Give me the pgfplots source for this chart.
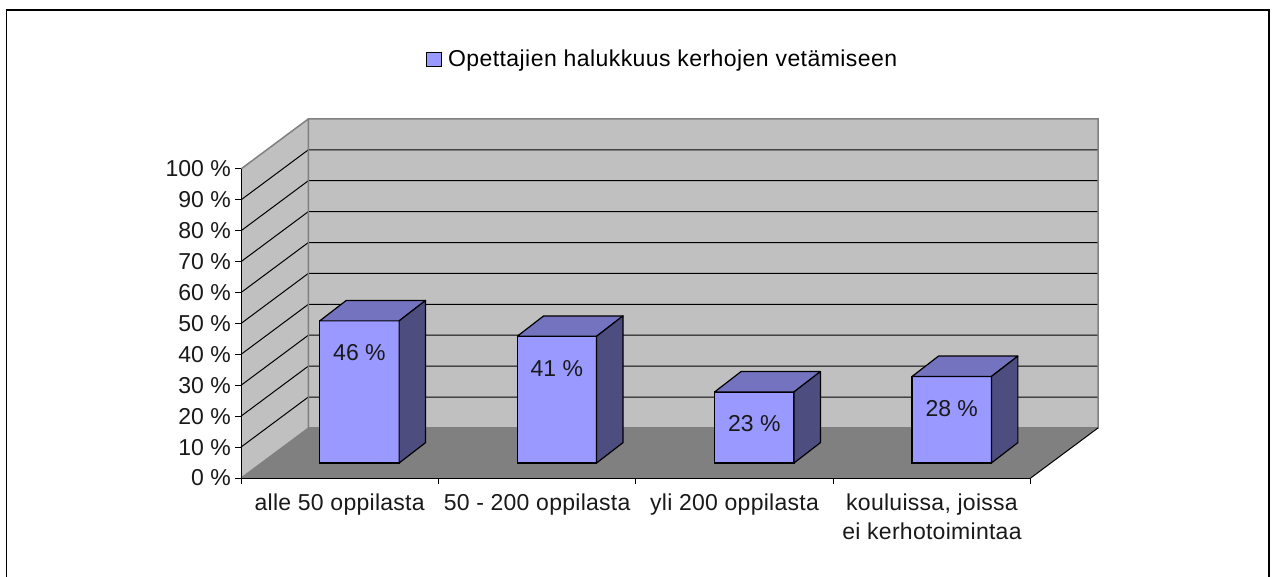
\documentclass[border=0pt]{standalone}
\usepackage{pgfplots}
\pgfplotsset{compat=1.18}
\usepackage{fontspec}
\setmainfont{Liberation Sans}
\newfontfamily\lsleg[LetterSpace=1.9]{Liberation Sans}
\newfontfamily\lslab[LetterSpace=1.2]{Liberation Sans}
\definecolor{wallc}{HTML}{C0C0C0}
\definecolor{floorc}{HTML}{808080}
\definecolor{barf}{HTML}{9999FF}
\definecolor{bart}{HTML}{7373BF}
\definecolor{bars}{HTML}{4D4D80}
\begin{document}
\begin{tikzpicture}[x=1pt,y=1pt]
\useasboundingbox (0,0) rectangle (1277,576);
\fill[white] (0,0) rectangle (1277,576);
\begin{scope}
\clip (0,0) rectangle (1277,576);
\draw[black,line width=1.5pt] (6.5,-10) rectangle (1269,566);
\end{scope}
% walls, floor, grid and axes: 0 % at the front edge
\begin{axis}[
  at={(241pt,98pt)},anchor=south west,scale only axis,
  width=789.7pt,height=309pt,
  xmin=0,xmax=4,ymin=0,ymax=100,clip=false,axis on top=true,
  axis x line=bottom,axis y line=left,
  axis line style={-,black,line width=1pt},
  tick align=outside,major tick length=6pt,
  every tick/.style={black,line width=1pt},
  tick label style={font=\fontsize{23}{29}\selectfont,text=black!90},
  xtick={0,1,2,3,4},xticklabels={},
  extra x ticks={0.5,1.5,2.5,3.5},
  extra x tick labels={alle 50 oppilasta,50 - 200 oppilasta,yli 200 oppilasta,{kouluissa, joissa\\ei kerhotoimintaa}},
  extra x tick style={major tick length=0pt,
    x tick label style={font=\fontsize{23}{29}\lslab,align=center,anchor=north,yshift=-13pt,inner sep=3pt}},
  ytick={0,10,...,100},
  yticklabels={0 \%,10 \%,20 \%,30 \%,40 \%,50 \%,60 \%,70 \%,80 \%,90 \%,100 \%},
  y tick label style={anchor=east,inner sep=0pt,xshift=-4pt},
]
\addplot[draw=none,fill=wallc,forget plot] coordinates {(0,0) (0,100) (0.341,116.2) (4.341,116.2) (4.341,16.2) (0.341,16.2) (0,0)};
\addplot[draw=none,fill=floorc,forget plot] coordinates {(0,0) (0.341,16.2) (4.341,16.2) (4,0) (0,0)};
\addplot[floorc!85!black,line width=1pt,forget plot] coordinates {(0.341,16.2) (4.341,16.2)};
\addplot[black,line width=1pt,forget plot] coordinates {(0,10) (0.341,26.2) (4.341,26.2)};
\addplot[black,line width=1pt,forget plot] coordinates {(0,20) (0.341,36.2) (4.341,36.2)};
\addplot[black,line width=1pt,forget plot] coordinates {(0,30) (0.341,46.2) (4.341,46.2)};
\addplot[black,line width=1pt,forget plot] coordinates {(0,40) (0.341,56.2) (4.341,56.2)};
\addplot[black,line width=1pt,forget plot] coordinates {(0,50) (0.341,66.2) (4.341,66.2)};
\addplot[black,line width=1pt,forget plot] coordinates {(0,60) (0.341,76.2) (4.341,76.2)};
\addplot[black,line width=1pt,forget plot] coordinates {(0,70) (0.341,86.2) (4.341,86.2)};
\addplot[black,line width=1pt,forget plot] coordinates {(0,80) (0.341,96.2) (4.341,96.2)};
\addplot[black,line width=1pt,forget plot] coordinates {(0,90) (0.341,106.2) (4.341,106.2)};
\addplot[floorc,line width=1.5pt,forget plot] coordinates {(0,100) (0.341,116.2) (4.341,116.2) (4.341,16.2) (0.341,16.2) (0.341,116.2)};
\addplot[floorc,line width=1pt,forget plot] coordinates {(0,0) (0.341,16.2)};
\addplot[black,line width=1pt,forget plot] coordinates {(4,0) (4.341,16.2)};
\end{axis}
% bars, on the raised base of the 3-D floor
\begin{axis}[
  at={(241pt,113pt)},anchor=south west,scale only axis,
  width=789.7pt,height=309pt,
  xmin=0,xmax=4,ymin=0,ymax=100,clip=false,
  hide axis,
  legend style={at={(0.2338,1.307)},anchor=west,draw=none,fill=none,
    font=\fontsize{23}{26}\lsleg,inner sep=0pt,row sep=0pt},
  legend image code/.code={\draw[black,line width=1.2pt,fill=barf] (0pt,-7pt) rectangle (15pt,7pt);\path (19pt,0pt);},
]
\addplot[ybar,bar width=79.5pt,bar shift=0pt,fill=barf,draw=black,line width=1.2pt,
  nodes near coords={\pgfplotspointmeta\ \%},
  point meta=explicit symbolic,
  every node near coord/.style={anchor=center,yshift=-32pt,font=\fontsize{23}{26}\selectfont,text=black!90},
] coordinates {(0.6,46)[46] (1.6,41)[41] (2.6,23)[23] (3.6,28)[28]};
\addlegendentry{Opettajien halukkuus kerhojen vetämiseen}
% top faces
\addplot[fill=bart,draw=black,line width=1.2pt,line join=round,forget plot] coordinates {(0.399,46) (0.801,46) (0.935,52.6) (0.533,52.6) (0.399,46)};
\addplot[fill=bart,draw=black,line width=1.2pt,line join=round,forget plot] coordinates {(1.399,41) (1.801,41) (1.935,47.6) (1.533,47.6) (1.399,41)};
\addplot[fill=bart,draw=black,line width=1.2pt,line join=round,forget plot] coordinates {(2.399,23) (2.801,23) (2.935,29.6) (2.533,29.6) (2.399,23)};
\addplot[fill=bart,draw=black,line width=1.2pt,line join=round,forget plot] coordinates {(3.399,28) (3.801,28) (3.935,34.6) (3.533,34.6) (3.399,28)};
% side faces
\addplot[fill=bars,draw=black,line width=1.2pt,line join=round,forget plot] coordinates {(0.801,0) (0.801,46) (0.935,52.6) (0.935,6.6) (0.801,0)};
\addplot[fill=bars,draw=black,line width=1.2pt,line join=round,forget plot] coordinates {(1.801,0) (1.801,41) (1.935,47.6) (1.935,6.6) (1.801,0)};
\addplot[fill=bars,draw=black,line width=1.2pt,line join=round,forget plot] coordinates {(2.801,0) (2.801,23) (2.935,29.6) (2.935,6.6) (2.801,0)};
\addplot[fill=bars,draw=black,line width=1.2pt,line join=round,forget plot] coordinates {(3.801,0) (3.801,28) (3.935,34.6) (3.935,6.6) (3.801,0)};
\end{axis}
\end{tikzpicture}
\end{document}
